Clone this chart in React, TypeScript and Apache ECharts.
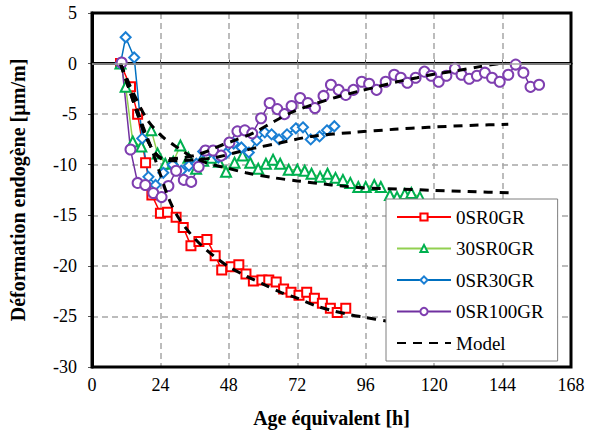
import React, { useEffect, useRef } from "react";
import * as echarts from "echarts";

// Measured endogenous strain [µm/m] versus equivalent age [h]
const sr0gr0: [number, number][] = [
  [10, 0], [13.5, -2.3], [16, -5], [18.8, -9.8], [21, -13], [24, -14.8], [26.5, -14.7],
  [29.5, -15.2], [32, -16.2], [34.7, -18], [37.5, -17.6], [40.3, -17.4], [43.2, -19],
  [45.5, -20.4], [48.8, -20.1], [51.5, -19.9], [54, -20.8], [56.6, -21.5], [59.6, -21.4],
  [62, -21.4], [64.6, -21.6], [67.2, -22.3], [69.8, -22.6], [72.6, -22.9], [75.3, -22.6],
  [78, -23.2], [80.8, -23.7], [83.6, -24.2], [86, -24.6], [89, -24.2],
];

const sr30gr0: [number, number][] = [
  [10, 0], [11.8, -2.3], [14.3, -7.7], [17.3, -8.2], [20.8, -6.6], [23, -8.9], [25.7, -9.9],
  [28.5, -9.7], [31, -8.1], [33.8, -9.3], [36.5, -10.4], [39, -9.6], [42, -9.3], [44.5, -9.7],
  [47, -10.7], [50, -9.8], [52.8, -9.1], [55.5, -9.8], [58.3, -10.4], [61, -9.9], [63.5, -9.5],
  [66, -9.9], [69, -10.5], [72, -10.5], [74.6, -10.6], [77, -10.9], [80, -11.2], [82.6, -10.9],
  [85.4, -11.3], [88, -11.5], [90.6, -11.8], [93.4, -12.2], [96, -12.2], [99, -12.0],
  [101.3, -12.2], [104.5, -13], [107, -13.2], [109.7, -12.9], [112, -12.8], [115, -13.2],
];

const sr0gr30: [number, number][] = [
  [10, 0], [11.8, 2.6], [14.8, 0.6], [17.6, -7.4], [19.8, -11.2], [22.3, -12], [25, -10.8],
  [28.3, -10], [31.3, -10.6], [34, -10.1], [36.6, -9.9], [39, -8.7], [41.6, -8.7], [44.3, -9.3],
  [47, -8.9], [49.7, -7.9], [52.4, -8.3], [55, -8.8], [57.8, -7.6], [60.6, -6.8], [63, -7.0],
  [65.6, -7.5], [68.4, -7.0], [71.5, -6.4], [74, -6.3], [76.7, -7.5], [79.8, -7.2],
  [82.4, -6.6], [85, -6.2],
];

const sr0gr100: [number, number][] = [
  [10.4, 0.1], [13.5, -8.5], [16, -11.8], [18.7, -12], [21.5, -12.8], [24.4, -13.2],
  [26.8, -12.1], [29.5, -10.6], [32.2, -11.5], [34.8, -11.7], [37.4, -10.2], [39.8, -8.6],
  [42.5, -8.6], [45.3, -9.1], [48.2, -7.8], [51, -6.7], [53.6, -6.6], [56.2, -6.9],
  [59.3, -5.4], [62.3, -3.9], [65, -4.5], [67.5, -5], [70, -4.2], [73, -3.4], [75.7, -3.9],
  [78.2, -4.4], [81.2, -3.2], [83.8, -2.1], [86.5, -2.6], [89, -3.1], [91.7, -2.6],
  [94.6, -1.8], [97.2, -2], [99.8, -2.6], [103, -1.8], [106, -1.1], [108.3, -1.4],
  [110.6, -1.9], [113.5, -1.4], [116.6, -0.8], [119, -1.2], [121.6, -1.8], [124.3, -1.2],
  [127.3, -0.5], [129.6, -1.1], [132.3, -1.5], [135, -1.2], [137.8, -0.9], [140.3, -1.4],
  [143, -1.8], [146, -1.1], [148.6, -0.1], [151.3, -0.9], [153.8, -2.3], [156.8, -2.1],
];

// Model curves
const model0gr0: [number, number][] = [
  [10, 0], [14, -3], [18, -6.3], [21, -8.5], [24, -11], [27, -13.4], [30, -15.1], [33, -16.3],
  [36, -17.3], [40, -18.4], [44, -19.3], [48, -20.1], [54, -21.0], [60, -21.8], [66, -22.6],
  [72, -23.2], [78, -23.9], [84, -24.4], [90, -24.8], [96, -25.1], [104, -25.5],
];

const model30gr0: [number, number][] = [
  [10, 0], [14, -2.6], [19.5, -5.6], [25, -7.3], [30, -8.3], [35, -9.2], [41, -9.9],
  [47, -10.3], [54, -10.8], [64, -11.3], [72, -11.6], [84, -12.0], [96, -12.3], [108, -12.4],
  [120, -12.55], [132, -12.65], [148, -12.8],
];

const model0gr30: [number, number][] = [
  [10, 0], [13, -2.5], [16, -5], [19, -7.3], [22, -8.8], [25, -9.5], [30, -9.6], [36, -9.5],
  [43, -9.3], [52, -8.7], [58, -8.3], [65, -7.9], [77, -7.2], [92, -6.8], [106, -6.5],
  [118, -6.3], [134, -6.1], [146, -6.0],
];

const model0gr100: [number, number][] = [
  [10, 0], [13, -2.5], [16, -5], [19, -7.3], [22, -8.8], [25, -9.4], [28, -9.4], [32, -9.3],
  [36, -9.1], [41, -8.6], [46, -8.0], [50, -7.6], [57, -6.8], [64, -5.7], [71, -4.7],
  [78, -4.0], [86, -3.3], [94, -2.7], [100, -2.3], [107, -1.8], [114, -1.4], [121, -1.0],
  [128, -0.7], [136, -0.3], [145, 0.1],
];

const legendNames = ["0SR0GR", "30SR0GR", "0SR30GR", "0SR100GR", "Model"];

const serif = "Liberation Serif";

function measured(name: string, data: [number, number][], symbol: string, size: number, line: string, mark: string) {
  return {
    name,
    type: "line",
    data,
    symbol,
    symbolSize: size,
    showAllSymbol: true,
    lineStyle: { color: line, width: 1.5 },
    itemStyle: { color: mark, borderWidth: 1.5 },
    z: 2,
  };
}

function model(data: [number, number][]) {
  return {
    name: "Model",
    type: "line",
    data,
    symbol: "none",
    smooth: 0.3,
    lineStyle: { color: "#000", width: 3, type: [9, 7] },
    itemStyle: { color: "#000" },
    z: 3,
  };
}

export default function App() {
  const ref = useRef<HTMLDivElement>(null);

  useEffect(() => {
    if (!ref.current) return;
    const chart = echarts.init(ref.current, undefined, { renderer: "svg" });
    chart.setOption({
      animation: false,
      backgroundColor: "#fff",
      grid: {
        left: 86,
        right: 18,
        top: 13,
        bottom: 69,
        show: true,
        borderColor: "#000",
        borderWidth: 3,
        z: 5,
      },
      legend: {
        data: legendNames.map((n) =>
          n === "Model" ? { name: n, itemStyle: { opacity: 0 } } : { name: n }
        ),
        orient: "vertical",
        left: 386,
        top: 199,
        itemWidth: 54,
        itemHeight: 9,
        itemGap: 9.5,
        padding: [7, 14, 7, 10],
        backgroundColor: "#fff",
        borderColor: "#7f7f7f",
        borderWidth: 1,
        borderRadius: 0,
        textStyle: { fontFamily: serif, fontSize: 19, color: "#000", lineHeight: 22 },
        z: 10,
      },
      xAxis: {
        type: "value",
        min: 0,
        max: 168,
        interval: 24,
        name: "Age équivalent [h]",
        nameLocation: "middle",
        nameGap: 41,
        nameTextStyle: { fontFamily: serif, fontSize: 20, fontWeight: "bold", color: "#000" },
        axisLine: { show: true, lineStyle: { color: "#000", width: 3 } },
        axisTick: { show: true, inside: true, length: 4, lineStyle: { color: "#555" } },
        axisLabel: { fontFamily: serif, fontSize: 18, color: "#000", margin: 9 },
        splitLine: { show: true, lineStyle: { color: "#a6a6a6", width: 1.5, type: [6, 4] } },
      },
      yAxis: {
        type: "value",
        min: -30,
        max: 5,
        interval: 5,
        name: "Déformation endogène [µm/m]",
        nameLocation: "middle",
        nameGap: 64,
        nameTextStyle: { fontFamily: serif, fontSize: 20, fontWeight: "bold", color: "#000" },
        axisLine: { show: true, lineStyle: { color: "#000", width: 3 } },
        axisTick: { show: true, inside: false, length: 4, lineStyle: { color: "#555" } },
        axisLabel: { fontFamily: serif, fontSize: 18, color: "#000", margin: 15 },
        splitLine: { show: true, lineStyle: { color: "#a6a6a6", width: 1.5, type: [6, 4] } },
      },
      series: [
        { ...measured("0SR0GR", sr0gr0, "emptyRect", 9, "#ff0000", "#ff0000"),
          markLine: {
            silent: true,
            symbol: "none",
            label: { show: false },
            lineStyle: { color: "#a6a6a6", type: "solid", width: 1.5 },
            data: [{ yAxis: 0 }],
          } },
        measured("30SR0GR", sr30gr0, "emptyTriangle", 10, "#92d050", "#00b050"),
        measured("0SR30GR", sr0gr30, "emptyDiamond", 10, "#0070c0", "#1a7fd4"),
        measured("0SR100GR", sr0gr100, "emptyCircle", 10, "#7030a0", "#7f3fb0"),
        model(model0gr0),
        model(model30gr0),
        model(model0gr30),
        model(model0gr100),
      ],
    });
    return () => chart.dispose();
  }, []);

  return (
    <div
      ref={ref}
      style={{ position: "fixed", left: 0, top: 0, width: 589, height: 436 }}
    />
  );
}
